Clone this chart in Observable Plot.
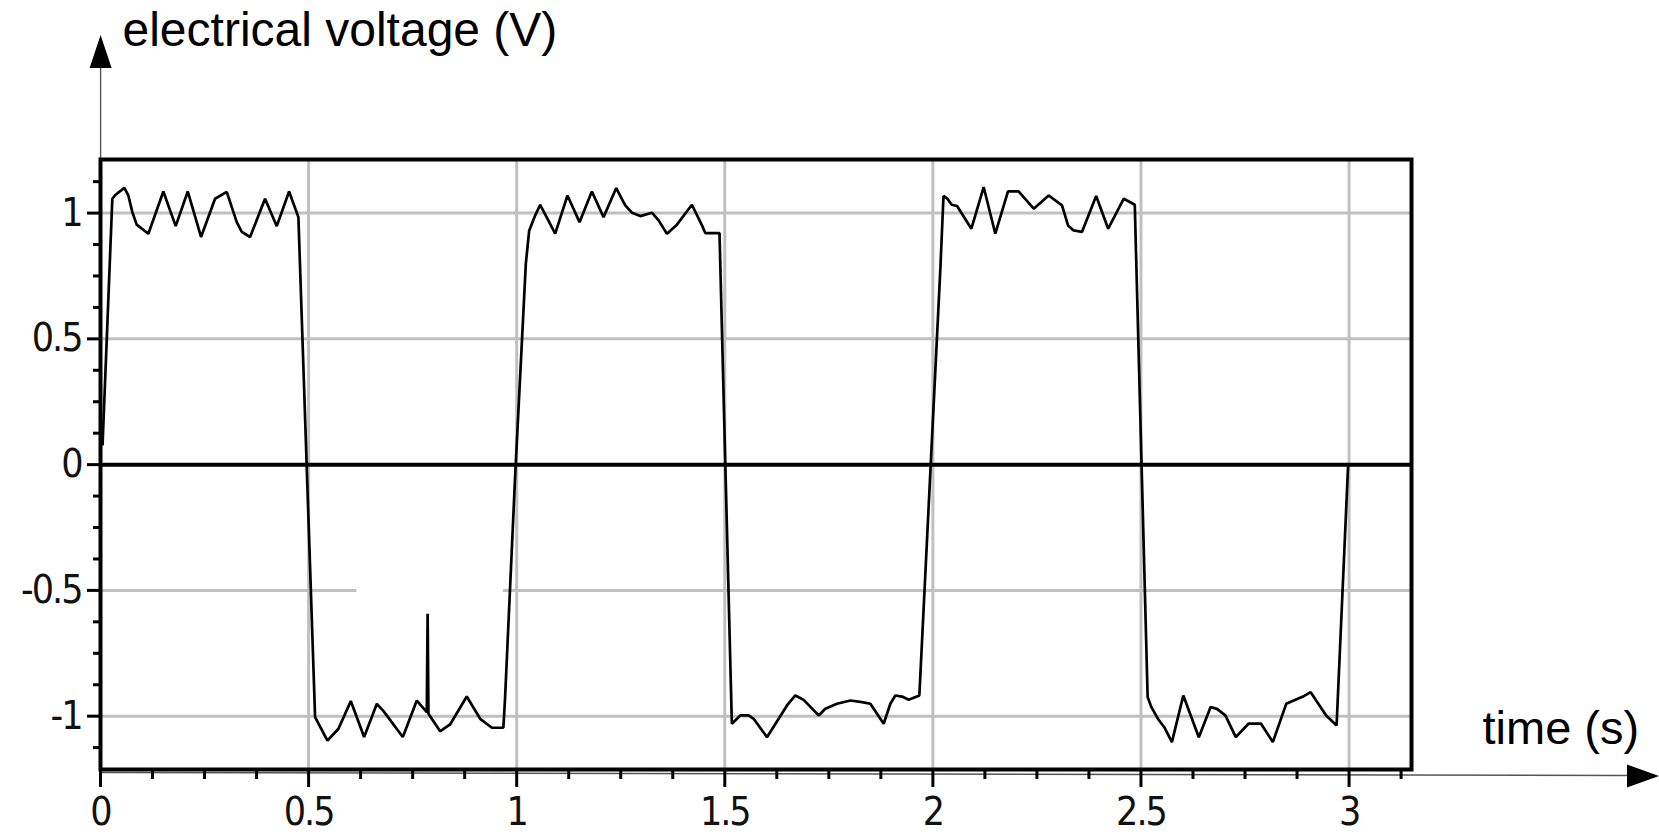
<!DOCTYPE html>
<html>
<head>
<meta charset="utf-8">
<script src="https://cdn.jsdelivr.net/npm/d3@7"></script>
<script src="https://cdn.jsdelivr.net/npm/@observablehq/plot@0.6"></script>
<style>
  html, body { margin: 0; padding: 0; background: #ffffff; }
  #chart svg { display: block; }
  #chart g[aria-label="x-axis tick label"] text,
  #chart g[aria-label="y-axis tick label"] text { letter-spacing: -2px; }
</style>
</head>
<body>
<div id="chart"></div>
<script>
// ---- data ----
const timeS = [
  0.005, 0.0284, 0.0364, 0.0573, 0.0669, 0.0765, 0.0869, 0.115, 0.151, 0.1807, 0.2096, 0.2416, 0.2752, 0.3033, 0.3274, 0.3394, 0.3594, 0.3954, 0.4235, 0.4531, 0.4755,
  0.5156, 0.5453, 0.5717, 0.6014, 0.6334, 0.664, 0.680, 0.7264, 0.760, 0.784, 0.786, 0.788, 0.816, 0.840, 0.880, 0.9123, 0.9404, 0.968,
  0.972, 0.997, 1.022, 1.030, 1.0445, 1.0565, 1.0925, 1.122, 1.151, 1.1806, 1.2087, 1.2392, 1.2608, 1.2769, 1.297, 1.325, 1.341, 1.361, 1.385, 1.421, 1.4452, 1.4532, 1.4873,
  1.517, 1.5373, 1.5573, 1.5693, 1.6014, 1.6495, 1.6695, 1.6895, 1.7255, 1.7416, 1.7697, 1.8017, 1.8298, 1.8498, 1.8818, 1.8978, 1.9098, 1.926, 1.9419, 1.9675,
  2.018, 2.0255, 2.035, 2.045, 2.0581, 2.0925, 2.122, 2.150, 2.1805, 2.2060, 2.2423, 2.2783, 2.3103, 2.3247, 2.3382, 2.3582, 2.3923, 2.4212, 2.4587, 2.4851,
  2.516, 2.525, 2.541, 2.556, 2.5743, 2.6017, 2.639, 2.6673, 2.6825, 2.7027, 2.7279, 2.7582, 2.7885, 2.8168, 2.849, 2.8894, 2.9077, 2.945, 2.970, 2.9976
];
const voltageV = [
  0.08, 1.057, 1.073, 1.10, 1.070, 1.004, 0.954, 0.918, 1.086, 0.948, 1.086, 0.905, 1.057, 1.084, 0.964, 0.925, 0.905, 1.057, 0.948, 1.086, 0.984,
  -1.004, -1.097, -1.050, -0.940, -1.083, -0.951, -0.980, -1.083, -0.938, -0.984, -0.593, -0.99, -1.060, -1.033, -0.922, -1.0105, -1.046, -1.046,
  -0.93, -0.02, 0.80, 0.93, 0.991, 1.033, 0.918, 1.070, 0.964, 1.086, 0.984, 1.0995, 1.031, 1.0015, 0.988, 1.0015, 0.971, 0.918, 0.954, 1.033, 0.951, 0.9205, 0.9205,
  -1.03, -0.997, -0.997, -1.0105, -1.0835, -0.9575, -0.9177, -0.935, -0.997, -0.9706, -0.9507, -0.9376, -0.944, -0.9507, -1.030, -0.9507, -0.9177, -0.922, -0.935, -0.9177,
  0.78, 1.068, 1.057, 1.033, 1.028, 0.938, 1.1035, 0.918, 1.086, 1.086, 1.0175, 1.070, 1.0305, 0.951, 0.931, 0.925, 1.068, 0.938, 1.057, 1.033,
  -0.924, -0.964, -1.011, -1.044, -1.103, -0.918, -1.0835, -0.964, -0.971, -0.997, -1.0835, -1.030, -1.030, -1.103, -0.951, -0.922, -0.9045, -0.997, -1.037, -0.007
];

const xMajorTicks = [0, 0.5, 1, 1.5, 2, 2.5, 3];
const xMinorTicks = [0.125, 0.25, 0.375, 0.625, 0.75, 0.875, 1.125, 1.25, 1.375, 1.625, 1.75, 1.875,
                     2.125, 2.25, 2.375, 2.625, 2.75, 2.875, 3.125];
const yMajorTicks = [-1, -0.5, 0, 0.5, 1];
const yMinorTicks = [-1.125, -0.875, -0.75, -0.625, -0.375, -0.25, -0.125,
                     0.125, 0.25, 0.375, 0.625, 0.75, 0.875, 1.125];
const xGridLines = [0.5, 1, 1.5, 2, 2.5, 3];
const yGridLines = [1, 0.5, -1];
const yGridBroken = [-0.5];          // this grid line has a gap in the picture
const gapStart = [0.616];
const gapEnd = [0.968];
const xDomain = [0, 3.15];
const yDomain = [-1.212, 1.213];
const xTitle = "time (s)";
const yTitle = "electrical voltage (V)";

// ---- build table ----
const signal = timeS.map((t, i) => ({t, v: voltageV[i]}));
const brokenGrid = [
  {y: yGridBroken[0], x1: xDomain[0], x2: gapStart[0]},
  {y: yGridBroken[0], x1: gapEnd[0], x2: xDomain[1]}
];

const W = 1659, H = 835;
const tickFont = '"DejaVu Sans Condensed", "DejaVu Sans", sans-serif';
const titleFont = '"Liberation Sans", Arial, Helvetica, sans-serif';
const fmt = d => String(d);

// axis arrows (decoration drawn from the frame dimensions)
function axisArrows(index, scales, values, dims) {
  const g = d3.create("svg:g");
  const xl = dims.marginLeft;
  const yt = dims.marginTop;
  const yb = dims.height - dims.marginBottom;
  // vertical arrow
  g.append("line")
    .attr("x1", xl + 0.6).attr("x2", xl + 0.6)
    .attr("y1", yt).attr("y2", 66)
    .attr("stroke", "#555").attr("stroke-width", 1.4);
  g.append("path")
    .attr("d", `M${xl + 0.6},35 L${xl - 10.4},68 L${xl + 11.6},68 Z`)
    .attr("fill", "#000");
  // horizontal arrow
  g.append("line")
    .attr("x1", xl).attr("y1", yb + 3.5)
    .attr("x2", dims.width - 30).attr("y2", yb + 6.5)
    .attr("stroke", "#555").attr("stroke-width", 1.4);
  g.append("path")
    .attr("d", `M${dims.width},${yb + 7} L${dims.width - 32},${yb - 4.5} L${dims.width - 32},${yb + 18.5} Z`)
    .attr("fill", "#000");
  return g.node();
}

const chart = Plot.plot({
  width: W,
  height: H,
  marginLeft: 100,
  marginRight: 248,
  marginTop: 159,
  marginBottom: 66,
  style: {background: "#ffffff", color: "#000", fontFamily: tickFont},
  x: {domain: xDomain, inset: 0},
  y: {domain: yDomain, inset: 0},
  marks: [
    axisArrows,
    Plot.ruleX(xGridLines, {stroke: "#c0c0c0", strokeWidth: 3}),
    Plot.ruleY(yGridLines, {stroke: "#c0c0c0", strokeWidth: 3}),
    Plot.ruleY(brokenGrid, {y: "y", x1: "x1", x2: "x2", stroke: "#c0c0c0", strokeWidth: 3}),
    Plot.ruleY([0], {stroke: "#000", strokeWidth: 4}),
    Plot.line(signal, {x: "t", y: "v", stroke: "#000", strokeWidth: 2.7, strokeLinejoin: "miter"}),
    Plot.frame({stroke: "#000", strokeWidth: 4}),
    Plot.axisX(xMajorTicks, {anchor: "bottom", tickSize: 18, tickPadding: 10, strokeWidth: 3,
      fontSize: 39, fontFamily: tickFont, tickFormat: fmt, label: null, stroke: "#000", fill: "#111"}),
    Plot.axisX(xMinorTicks, {anchor: "bottom", tickSize: 10, strokeWidth: 3, text: null, label: null}),
    Plot.axisY(yMajorTicks, {anchor: "left", tickSize: 13, tickPadding: 6, strokeWidth: 3,
      fontSize: 39, fontFamily: tickFont, tickFormat: fmt, label: null, stroke: "#000", fill: "#111"}),
    Plot.axisY(yMinorTicks, {anchor: "left", tickSize: 7, strokeWidth: 3, text: null, label: null}),
    Plot.text([yTitle], {frameAnchor: "top-left", dx: 22, dy: -114, textAnchor: "start",
      lineAnchor: "bottom", fontSize: 48, fontFamily: titleFont, fill: "#000"}),
    Plot.text([xTitle], {frameAnchor: "bottom-right", dx: 71, dy: -26, textAnchor: "start",
      lineAnchor: "bottom", fontSize: 47, fontFamily: titleFont, fill: "#000"})
  ]
});
document.getElementById("chart").appendChild(chart);
</script>
</body>
</html>
